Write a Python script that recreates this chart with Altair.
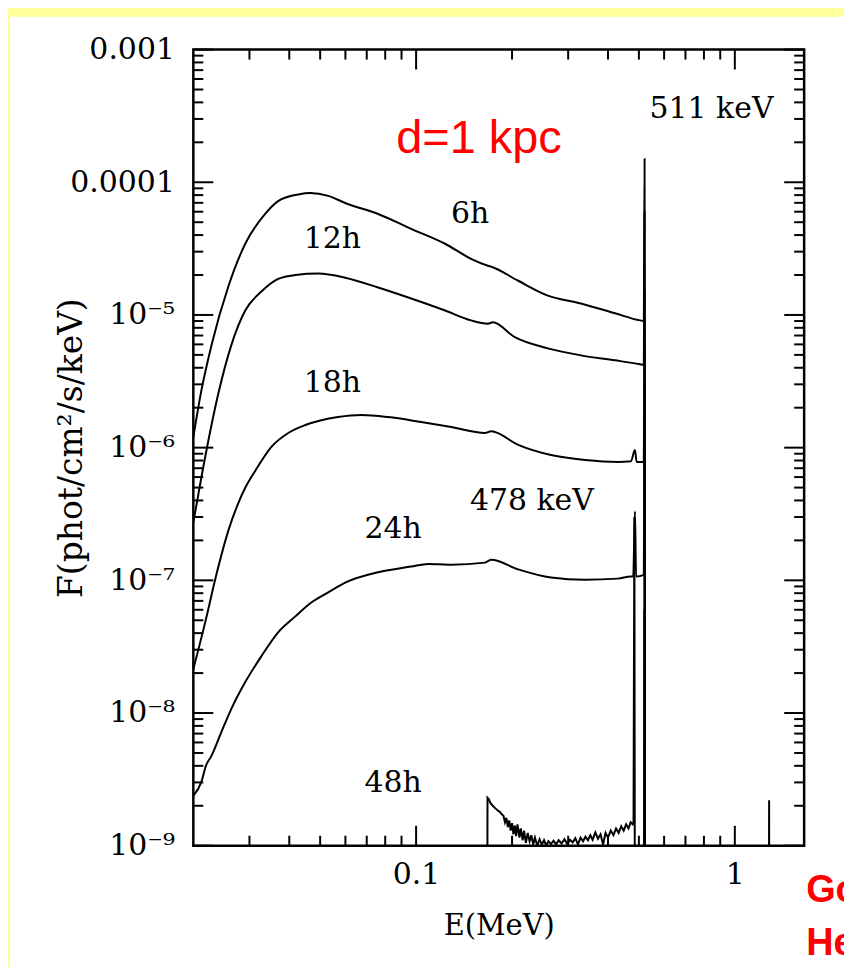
import altair as alt
import pandas as pd

# ---------------- data (E in MeV, F in phot/cm2/s/keV) ----------------
E_6h = [0.0200, 0.0212, 0.0228, 0.0258, 0.0291, 0.0336, 0.0369, 0.0427, 0.0465, 0.0530,
        0.0599, 0.0760, 0.0965, 0.1233, 0.1487, 0.168, 0.173, 0.209, 0.259, 0.329,
        0.421, 0.504, 0.518, 0.521, 0.523]
F_6h = [1.2e-6, 2.7e-6, 5.9e-6, 1.66e-5, 3.44e-5, 5.77e-5, 7.2e-5, 8.1e-5, 8.3e-5, 7.9e-5,
        6.98e-5, 5.77e-5, 4.46e-5, 3.44e-5, 2.65e-5, 2.35e-5, 2.3e-5, 1.81e-5, 1.40e-5, 1.22e-5,
        1.03e-5, 9.1e-6, 9.0e-6, 1.5e-4, 1e-12]

E_12h = [0.0200, 0.0220, 0.0240, 0.0263, 0.0291, 0.0327, 0.0369, 0.0418, 0.0493, 0.0599,
         0.0760, 0.0965, 0.1233, 0.1487, 0.168, 0.174, 0.204, 0.259, 0.329, 0.421,
         0.504, 0.518, 0.521, 0.523]
F_12h = [2.72e-7, 9.6e-7, 2.6e-6, 5.9e-6, 1.08e-5, 1.5e-5, 1.87e-5, 2.0e-5, 2.05e-5, 1.91e-5,
         1.61e-5, 1.33e-5, 1.08e-5, 9.1e-6, 8.6e-6, 8.8e-6, 6.8e-6, 5.6e-6, 4.96e-6, 4.55e-6,
         4.25e-6, 4.2e-6, 6e-5, 1e-12]

E_18h = [0.0200, 0.0219, 0.0235, 0.0258, 0.0277, 0.0291, 0.0314, 0.0351, 0.0397, 0.0449,
         0.0504, 0.0569, 0.0673, 0.0817, 0.1037, 0.129, 0.1645, 0.172, 0.209, 0.265,
         0.339, 0.430, 0.472, 0.486, 0.492, 0.518, 0.521, 0.523]
F_18h = [2.14e-8, 5.08e-8, 1.05e-7, 2.4e-7, 3.84e-7, 4.98e-7, 6.79e-7, 1.01e-6, 1.29e-6, 1.48e-6,
         1.61e-6, 1.70e-6, 1.76e-6, 1.70e-6, 1.56e-6, 1.43e-6, 1.29e-6, 1.33e-6, 1.05e-6, 8.8e-7,
         8.07e-7, 7.8e-7, 7.9e-7, 9.6e-7, 7.8e-7, 7.8e-7, 1.5e-5, 1e-12]

E_24h = [0.0200, 0.0212, 0.0219, 0.0228, 0.0245, 0.0263, 0.0291, 0.0327, 0.0369, 0.0418,
         0.0469, 0.0530, 0.0599, 0.0760, 0.0965, 0.109, 0.129, 0.1645, 0.172, 0.209,
         0.265, 0.339, 0.430, 0.472, 0.480, 0.486, 0.490, 0.518, 0.521, 0.523]
F_24h = [2.38e-9, 3.03e-9, 4.0e-9, 4.75e-9, 7.2e-9, 1.07e-8, 1.71e-8, 2.68e-8, 4.06e-8, 5.35e-8,
         6.8e-8, 8.1e-8, 9.6e-8, 1.15e-7, 1.27e-7, 1.33e-7, 1.31e-7, 1.36e-7, 1.43e-7, 1.21e-7,
         1.05e-7, 1.01e-7, 1.03e-7, 1.07e-7, 1.07e-7, 3.3e-7, 1.07e-7, 1.1e-7, 3e-6, 1e-12]

E_48h = [0.1665, 0.1675, 0.169, 0.171, 0.174, 0.177, 0.180, 0.183, 0.186, 0.188,
         0.190, 0.192, 0.194, 0.196, 0.198, 0.200, 0.202, 0.204, 0.206, 0.208,
         0.211, 0.213, 0.216, 0.218, 0.221, 0.224, 0.227, 0.230, 0.233, 0.236,
         0.240, 0.244, 0.248, 0.252, 0.256, 0.260, 0.265, 0.270, 0.275, 0.280,
         0.286, 0.292, 0.298, 0.304, 0.310, 0.316, 0.322, 0.328, 0.334, 0.340,
         0.346, 0.352, 0.358, 0.365, 0.372, 0.379, 0.386, 0.393, 0.400, 0.408,
         0.416, 0.424, 0.432, 0.440, 0.448, 0.456, 0.464, 0.471, 0.478, 0.481,
         0.484, 0.487, 0.517, 0.520, 0.523, 1.276, 1.281, 1.286]
F_48h = [1e-12, 2.3e-9, 2.25e-9, 2.1e-9, 2.0e-9, 1.92e-9, 1.85e-9, 1.8e-9, 1.72e-9, 1.68e-9,
         1.5e-9, 1.62e-9, 1.38e-9, 1.55e-9, 1.3e-9, 1.48e-9, 1.22e-9, 1.42e-9, 1.18e-9, 1.45e-9,
         1.15e-9, 1.35e-9, 1.1e-9, 1.3e-9, 1.05e-9, 1.25e-9, 1.08e-9, 1.2e-9, 1.02e-9, 1.15e-9,
         1.0e-9, 1.12e-9, 1.02e-9, 1.1e-9, 1.0e-9, 1.08e-9, 1.03e-9, 1.09e-9, 1.02e-9, 1.1e-9,
         1.04e-9, 1.12e-9, 1.03e-9, 1.11e-9, 1.06e-9, 1.14e-9, 1.02e-9, 1.15e-9, 1.08e-9, 1.17e-9,
         1.1e-9, 1.2e-9, 1.11e-9, 1.26e-9, 1.13e-9, 1.22e-9, 1.02e-9, 1.25e-9, 1.15e-9, 1.3e-9,
         1.2e-9, 1.35e-9, 1.25e-9, 1.4e-9, 1.3e-9, 1.45e-9, 1.35e-9, 1.5e-9, 1.45e-9, 1.5e-9,
         3.0e-7, 1e-12, 1e-12, 6e-8, 1e-12, 1e-12, 2.2e-9, 1e-12]

smooth_series = [("6h", E_6h, F_6h), ("12h", E_12h, F_12h), ("18h", E_18h, F_18h),
                 ("24h", E_24h, F_24h)]
noisy_series = [("48h", E_48h, F_48h)]

ann_text = ["511 keV", "6h", "12h", "18h", "24h", "478 keV", "48h"]
ann_E = [0.845, 0.1476, 0.0546, 0.0546, 0.0847, 0.2308, 0.0847]
ann_F = [3.03e-4, 4.94e-5, 3.21e-5, 2.61e-6, 2.09e-7, 3.4e-7, 2.55e-9]

x_major = [0.1, 1.0]
x_minor = [0.03, 0.04, 0.05, 0.06, 0.07, 0.08, 0.09, 0.2, 0.3, 0.4, 0.5, 0.6, 0.7, 0.8, 0.9]
y_exps = [-9, -8, -7, -6, -5, -4, -3]
y_major = [10.0 ** n for n in y_exps]
y_minor = [k * 10.0 ** n for n in y_exps[:-1] for k in range(2, 10)]


# ---------------- build tables ----------------
def to_df(series):
    rows = []
    for name, Es, Fs in series:
        assert len(Es) == len(Fs), name
        for i, (e, f) in enumerate(zip(Es, Fs)):
            rows.append({"series": name, "i": i, "E": e, "F": f})
    return pd.DataFrame(rows)


smooth_df = to_df(smooth_series)
noisy_df = to_df(noisy_series)
ann_df = pd.DataFrame({"E": ann_E, "F": ann_F, "t": ann_text})

W, H = 613, 799
SERIF = "DejaVu Serif"
SANS = "Liberation Sans"

xscale = alt.Scale(type="log", domain=[0.02, 1.65], nice=False)
yscale = alt.Scale(type="log", domain=[1e-9, 1e-3], nice=False)

sup = "['⁰','¹','²','³','⁴','⁵','⁶','⁷','⁸','⁹']"
ylabel_expr = ("datum.value > 5e-4 ? '0.001' : (datum.value > 5e-5 ? '0.0001' : "
               "'10⁻' + " + sup + "[round(-log(datum.value)/LN10)])")

xaxis = alt.Axis(values=x_major, labelExpr="datum.value < 0.5 ? '0.1' : '1'",
                 title="E(MeV)", ticks=False, tickSize=0, domain=False, grid=False,
                 labelFont=SERIF, labelFontSize=30, labelColor="black", labelPadding=14,
                 labelFlush=False, labelOverlap=False,
                 titleFont=SERIF, titleFontSize=29, titleFontWeight="normal", titleColor="black",
                 titleX=W / 2, titleY=89, titleAlign="center", titleBaseline="alphabetic",
                 zindex=1)
yaxis = alt.Axis(values=y_major, labelExpr=ylabel_expr,
                 title="F(phot/cm²/s/keV)", ticks=False, tickSize=0, domain=False, grid=False,
                 labelFont=SERIF, labelFontSize=30, labelColor="black", labelPadding=19,
                 labelAlign="right", labelBaseline="middle", labelFlush=False, labelOverlap=False,
                 titleFont=SERIF, titleFontSize=33, titleFontWeight="normal", titleColor="black",
                 titleX=-112, titleY=H / 2, titleAngle=270, titleAlign="center",
                 titleBaseline="alphabetic", zindex=1)


def X():
    return alt.X("E:Q", scale=xscale, axis=xaxis)


def Y():
    return alt.Y("F:Q", scale=yscale, axis=yaxis)


one = pd.DataFrame({"k": [0]})

bg = alt.Chart(one).mark_rect(fill="white").encode(
    x=alt.value(-184), x2=alt.value(852 - 194), y=alt.value(-33), y2=alt.value(976 - 48))

curves = alt.Chart(smooth_df).mark_line(color="black", strokeWidth=2, clip=True,
                                        interpolate="monotone").encode(
    x=X(), y=Y(), detail="series:N", order="i:Q")
noisy = alt.Chart(noisy_df).mark_line(color="black", strokeWidth=2, clip=True,
                                      interpolate="linear").encode(
    x=X(), y=Y(), detail="series:N", order="i:Q")

MAJ, MIN = 20, 10


def xticks(vals, length):
    d = pd.DataFrame({"E": vals})
    bot = alt.Chart(d).mark_rule(color="black", strokeWidth=2).encode(
        x=X(), y=alt.value(H), y2=alt.value(H - length))
    top = alt.Chart(d).mark_rule(color="black", strokeWidth=2).encode(
        x=X(), y=alt.value(0), y2=alt.value(length))
    return [bot, top]


def yticks(vals, length):
    d = pd.DataFrame({"F": vals})
    left = alt.Chart(d).mark_rule(color="black", strokeWidth=2).encode(
        y=Y(), x=alt.value(0), x2=alt.value(length))
    right = alt.Chart(d).mark_rule(color="black", strokeWidth=2).encode(
        y=Y(), x=alt.value(W), x2=alt.value(W - length))
    return [left, right]


tick_layers = (xticks(x_major, MAJ) + xticks(x_minor, MIN) +
               yticks(y_major, MAJ) + yticks(y_minor, MIN))

ann = alt.Chart(ann_df).mark_text(font=SERIF, fontSize=30, color="black", align="center",
                                  baseline="alphabetic").encode(x=X(), y=Y(), text="t:N")

red_df = pd.DataFrame({"E": [0.1575], "F": [1.66e-4], "t": ["d=1 kpc"]})
red = alt.Chart(red_df).mark_text(font=SANS, fontSize=47, color="#ff0000", align="center",
                                  baseline="alphabetic").encode(x=X(), y=Y(), text="t:N")

go = alt.Chart(pd.DataFrame({"t": ["Go"]})).mark_text(
    font=SANS, fontWeight="bold", fontSize=38, color="#ff0000", align="left",
    baseline="alphabetic").encode(x=alt.value(615), y=alt.value(855), text="t:N")
he = alt.Chart(pd.DataFrame({"t": ["He"]})).mark_text(
    font=SANS, fontWeight="bold", fontSize=38, color="#ff0000", align="left",
    baseline="alphabetic").encode(x=alt.value(615), y=alt.value(909), text="t:N")

frame = alt.Chart(one).mark_rect(filled=False, stroke="black", strokeWidth=2.5).encode(
    x=alt.value(0), x2=alt.value(W), y=alt.value(0), y2=alt.value(H))

chart = alt.layer(bg, curves, noisy, *tick_layers, ann, red, go, he, frame).properties(
    width=W, height=H,
    autosize=alt.AutoSizeParams(type="none"),
    padding={"left": 186, "top": 40, "right": 40, "bottom": 120},
).configure(background="#ffff99").configure_view(stroke=None)

chart.save("out.html", embed_options={"renderer": "svg", "actions": False})
